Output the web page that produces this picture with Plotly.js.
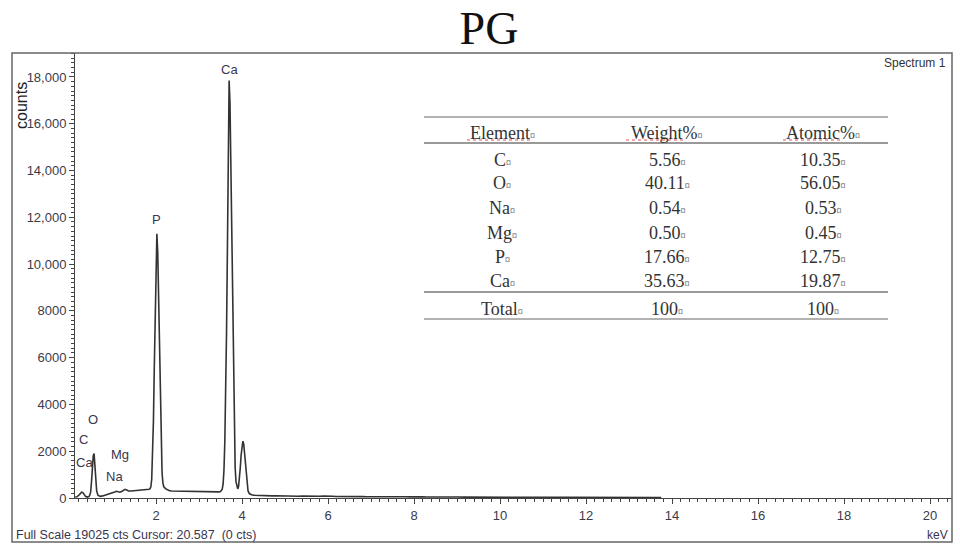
<!DOCTYPE html>
<html><head><meta charset="utf-8">
<script src="https://cdn.plot.ly/plotly-3.0.1.min.js"></script>
<style>html,body{margin:0;padding:0;background:#fff}#chart{width:960px;height:550px}</style>
</head><body><div id="chart"></div><script>
// ---- spectrum (energy in keV, counts) ----
const energyKeV = [
 0.12,0.16,0.20,0.24,0.27,0.30,0.33,0.36,0.40,0.44,0.46,0.48,0.50,0.52,0.54,0.56,0.58,0.60,0.62,0.65,
 0.70,0.76,0.82,0.88,0.94,1.00,1.04,1.08,1.12,1.16,1.20,1.24,1.28,1.32,1.36,1.42,1.48,1.54,1.60,1.66,
 1.72,1.78,1.84,1.86,1.88,1.90,1.92,1.94,1.96,1.98,2.00,2.02,2.04,2.06,2.08,2.10,2.12,2.14,2.16,2.18,
 2.22,2.26,2.30,2.36,2.44,2.52,2.60,2.70,2.80,2.90,3.00,3.10,3.20,3.30,3.40,3.46,3.50,3.54,3.56,3.58,
 3.60,3.62,3.64,3.66,3.68,3.70,3.72,3.74,3.76,3.78,3.80,3.82,3.84,3.86,3.88,3.90,3.92,3.94,3.96,3.98,
 4.00,4.02,4.04,4.06,4.08,4.10,4.12,4.14,4.17,4.22,4.28,4.35,4.40,4.50,4.60,4.70,4.80,4.90,5.00,5.10,
 5.20,5.30,5.40,5.50,5.60,5.70,5.80,5.90,6.00,6.10,6.20,6.30,6.40,6.50,6.60,6.70,6.80,6.90,7.00,7.10,
 7.20,7.30,7.40,7.50,7.60,7.70,7.80,7.90,8.00,8.10,8.20,8.30,8.40,8.50,8.60,8.80,9.00,9.20,9.40,9.60,
 9.80,10.0,10.3,10.6,10.9,11.2,11.5,11.8,12.1,12.4,12.7,13.0,13.3,13.6,13.75
];
const counts = [
 40,50,110,210,250,230,150,70,40,60,120,250,700,1350,1800,1900,1450,750,300,120,
 70,90,120,150,180,220,260,290,270,250,280,340,370,340,300,300,310,315,320,330,
 340,355,370,400,480,800,1700,3300,5600,8200,10300,11300,10500,8500,6000,3700,2000,1100,650,480,
 400,350,320,300,295,290,285,280,275,270,268,265,262,258,255,260,280,380,600,1200,
 2400,4300,7100,10600,14800,17850,16900,14300,10900,7400,4500,2500,1300,700,450,390,500,800,1300,1850,
 2250,2430,2300,1900,1350,850,500,300,190,140,120,110,105,95,100,90,95,85,90,80,
 85,75,80,70,75,68,72,85,95,75,65,68,62,60,58,55,58,52,55,60,
 52,58,50,55,48,52,56,48,55,46,50,44,48,42,44,40,42,38,40,36,
 35,34,32,33,30,30,28,29,27,26,27,25,24,24,22
];

// ---- peak labels ----
const peakLabels = ["Ca","P","O","C","Ca","Mg","Na"];
const peakLabelX = [3.70, 2.00, 0.54, 0.31, 0.33, 1.16, 1.03];
const peakLabelY = [18300, 11900, 3370, 2480, 1510, 1840, 910];

// ---- axis ticks ----
const yTickVals = [0,2000,4000,6000,8000,10000,12000,14000,16000,18000];
const yTickText = ["0","2000","4000","6000","8000","10,000","12,000","14,000","16,000","18,000"];

// ---- table ----
const tableHeader = ["Element","Weight%","Atomic%"];
const tableElements = ["C","O","Na","Mg","P","Ca"];
const tableWeight = ["5.56","40.11","0.54","0.50","17.66","35.63"];
const tableAtomic = ["10.35","56.05","0.53","0.45","12.75","19.87"];
const tableTotal = ["Total","100","100"];

// ---- layout helpers (pixel -> paper) ----
const M = {l:75, r:8, t:53, b:52};
const PW = 960 - M.l - M.r, PH = 550 - M.t - M.b;
const px = x => (x - M.l) / PW;
const py = y => (550 - M.b - y) / PH;

const sans = 'Liberation Sans, Arial, sans-serif';
const serif = 'Liberation Serif, Times New Roman, serif';
const annotations = [];
const shapes = [];

// outer frame
shapes.push({type:'rect', xref:'paper', yref:'paper', x0:px(12), x1:px(952), y0:py(542), y1:py(53),
  line:{color:'#666', width:1.5}});

peakLabels.forEach((t,i)=>annotations.push({x:peakLabelX[i], y:peakLabelY[i], xref:'x', yref:'y', text:t,
  showarrow:false, xanchor:'center', yanchor:'middle', font:{family:sans, size:13, color:'#3a3550'}}));

annotations.push({xref:'paper', yref:'paper', x:px(21), y:py(106), text:'counts', textangle:-90, showarrow:false,
  xanchor:'center', yanchor:'middle', font:{family:sans, size:16, color:'#222'}});
annotations.push({xref:'paper', yref:'paper', x:px(948), y:py(63), text:'Spectrum 1', showarrow:false,
  xanchor:'right', yanchor:'middle', font:{family:sans, size:12, color:'#333'}});
annotations.push({xref:'paper', yref:'paper', x:px(14), y:py(535), text:'Full Scale 19025 cts Cursor: 20.587\u00a0 (0 cts)', showarrow:false,
  xanchor:'left', yanchor:'middle', font:{family:sans, size:12.5, color:'#3a3550'}});
annotations.push({xref:'paper', yref:'paper', x:px(950), y:py(535), text:'keV', showarrow:false,
  xanchor:'right', yanchor:'middle', font:{family:sans, size:12, color:'#3a3550'}});

// table
const colX = [502, 667, 823];
const headerY = 133;
const rowY = [160, 183, 208, 233, 257, 281];
const totalY = 309;
const mark = '<span style="font-size:10px">¤</span>';
const tfont = {family:serif, size:18, color:'#333'};
const cell = (t, x, y) => annotations.push({xref:'paper', yref:'paper', x:px(x), y:py(y), text:t+mark,
  showarrow:false, xanchor:'center', yanchor:'middle', font:tfont});
tableHeader.forEach((t,j)=>cell(t, colX[j], headerY));
tableElements.forEach((t,i)=>{ cell(t, colX[0], rowY[i]); cell(tableWeight[i], colX[1], rowY[i]); cell(tableAtomic[i], colX[2], rowY[i]); });
tableTotal.forEach((t,j)=>cell(t, colX[j], totalY));
[[117,1.5],[143,2],[292,2],[319,1.5]].forEach(([y,w])=>shapes.push({type:'line', xref:'paper', yref:'paper',
  x0:px(424), x1:px(888), y0:py(y), y1:py(y), line:{color:'#999', width:w}}));
[[467,532],[626,685],[783,841]].forEach(([a,b])=>shapes.push({type:'line', xref:'paper', yref:'paper',
  x0:px(a), x1:px(b), y0:py(140), y1:py(140), line:{color:'#e05050', width:1, dash:'dot'}}));

const trace = {x:energyKeV, y:counts, type:'scatter', mode:'lines', line:{color:'#333', width:1.6}, hoverinfo:'skip'};

const layout = {
  width:960, height:550, margin:M, paper_bgcolor:'#fff', plot_bgcolor:'#fff', showlegend:false,
  title:{text:'PG', font:{family:serif, size:46, color:'#111'}, x:489/960, xref:'container', xanchor:'center',
    y:1-28/550, yref:'container', yanchor:'middle'},
  xaxis:{range:[0.116,20.51], tickmode:'linear', tick0:0, dtick:2, ticks:'outside', ticklen:5, tickwidth:1, tickcolor:'#444',
    showline:true, linecolor:'#444', linewidth:1, showgrid:false, zeroline:false,
    tickfont:{family:sans, size:13, color:'#3b3b4a'},
    minor:{tick0:0, dtick:0.2, ticks:'outside', ticklen:3, tickcolor:'#444', tickwidth:1, showgrid:false}},
  yaxis:{range:[0,19025], tickmode:'array', tickvals:yTickVals, ticktext:yTickText, ticks:'outside', ticklen:5, tickwidth:1, tickcolor:'#444',
    showline:true, linecolor:'#444', linewidth:1, showgrid:false, zeroline:false,
    tickfont:{family:sans, size:13, color:'#3b3b4a'},
    minor:{tick0:0, dtick:200, ticks:'outside', ticklen:3, tickcolor:'#444', tickwidth:1, showgrid:false}},
  annotations, shapes
};
Plotly.newPlot('chart', [trace], layout, {staticPlot:true, displayModeBar:false});
</script></body></html>
